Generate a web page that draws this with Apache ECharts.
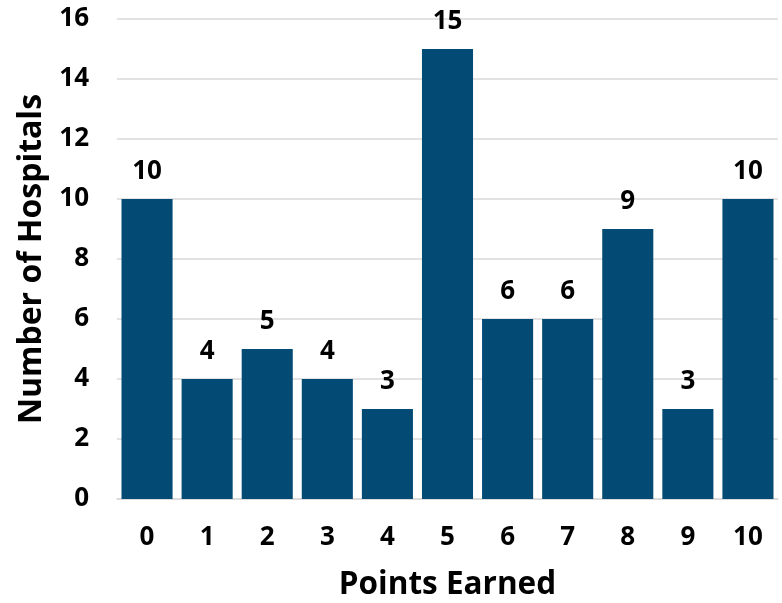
<!DOCTYPE html>
<html><head><meta charset="utf-8">
<script src="https://cdn.jsdelivr.net/npm/echarts@6/dist/echarts.min.js"></script>
<style>html,body{margin:0;padding:0;background:#fff}#c{width:782px;height:603px}</style>
</head><body><div id="c"></div>
<script>
const categories = ['0','1','2','3','4','5','6','7','8','9','10'];
const hospitals = [10,4,5,4,3,15,6,6,9,3,10];
const xTitle = 'Points Earned';
const yTitle = 'Number of Hospitals';

const chart = echarts.init(document.getElementById('c'));
const font = '"Open Sans", sans-serif';
chart.setOption({
  animation: false,
  grid: {left: 117, right: 4, top: 19, bottom: 104, containLabel: false, outerBoundsMode: 'none'},
  xAxis: {
    type: 'category', data: categories,
    name: xTitle, nameLocation: 'middle', nameGap: 70,
    nameTextStyle: {fontFamily: font, fontWeight: 'bold', fontSize: 31.5, color: '#000'},
    axisLine: {show: true, lineStyle: {color: '#d9d9d9', width: 1.5}},
    axisTick: {show: false},
    axisLabel: {fontFamily: font, fontWeight: 'bold', fontSize: 26, color: '#000', margin: 26}
  },
  yAxis: {
    type: 'value', min: 0, max: 16, interval: 2,
    name: yTitle, nameLocation: 'middle', nameGap: 68, nameRotate: 90,
    nameTextStyle: {fontFamily: font, fontWeight: 'bold', fontSize: 32, color: '#000'},
    axisLine: {show: false}, axisTick: {show: false},
    splitLine: {lineStyle: {color: '#d9d9d9', width: 1.5}},
    axisLabel: {fontFamily: font, fontWeight: 'bold', fontSize: 26, color: '#000', margin: 28}
  },
  series: [{
    type: 'bar', data: hospitals, barCategoryGap: '15%',
    itemStyle: {color: '#034a74'},
    label: {show: true, position: 'top', distance: 14, fontFamily: font, fontWeight: 'bold', fontSize: 26, color: '#000'}
  }]
});
</script></body></html>
